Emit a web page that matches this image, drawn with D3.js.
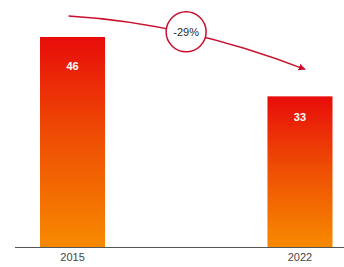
<!DOCTYPE html>
<html><head><meta charset="utf-8">
<script src="https://cdn.jsdelivr.net/npm/d3@7"></script>
<style>html,body{margin:0;padding:0;background:#fff;}svg{display:block;font-family:"Liberation Sans",Arial,sans-serif;}</style>
</head><body>
<svg id="c" width="344" height="267"></svg>
<script>
const categories = ["2015", "2022"];
const values = [46, 33];
const changeLabel = "-29%";

const svg = d3.select("#c");
const W = 344, H = 267;
const baseY = 247;

const x = d3.scaleBand().domain(categories).range([40, 332.5]).paddingInner(0.714).paddingOuter(0);
const y = d3.scaleLinear().domain([0, 46]).range([baseY, 37]);

const defs = svg.append("defs");
const g = defs.append("linearGradient").attr("id", "grad").attr("x1", 0).attr("y1", 0).attr("x2", 0).attr("y2", 1);
g.append("stop").attr("offset", "0%").attr("stop-color", "#e80c0a");
g.append("stop").attr("offset", "45%").attr("stop-color", "#ee4a04");
g.append("stop").attr("offset", "100%").attr("stop-color", "#f78a00");

const mk = defs.append("marker").attr("id", "arr").attr("viewBox", "0 0 10 10").attr("refX", 9).attr("refY", 5)
  .attr("markerWidth", 7).attr("markerHeight", 7).attr("orient", "auto").attr("markerUnits", "userSpaceOnUse");
mk.append("path").attr("d", "M0,0 L10,5 L0,10 Z").attr("fill", "#c8102e");

svg.selectAll("rect.bar").data(values).join("rect").attr("class", "bar")
  .attr("x", (d, i) => x(categories[i])).attr("width", x.bandwidth())
  .attr("y", d => y(d)).attr("height", d => baseY - y(d)).attr("fill", "url(#grad)");

svg.selectAll("text.val").data(values).join("text").attr("class", "val")
  .attr("x", (d, i) => x(categories[i]) + x.bandwidth() / 2)
  .attr("y", d => y(d) + 0.14 * (baseY - y(d)) + 4).attr("text-anchor", "middle")
  .attr("fill", "#fff").attr("font-size", 11).attr("font-weight", "bold").text(d => d);

svg.append("line").attr("x1", 15).attr("x2", W).attr("y1", baseY + 0.5).attr("y2", baseY + 0.5)
  .attr("stroke", "#555").attr("stroke-width", 1);

const axis = d3.axisBottom(x).tickSize(0).tickPadding(6);
const ax = svg.append("g").attr("transform", `translate(0,${baseY})`).call(axis);
ax.select(".domain").remove();
ax.selectAll("text").attr("font-size", 11).attr("fill", "#444").attr("font-family", "Liberation Sans, Arial, sans-serif");

// arrow
const cx1 = x(categories[0]) + x.bandwidth() / 2 - 4, cy1 = y(values[0]) - 21;
const cx2 = x(categories[1]) + x.bandwidth() / 2 + 5, cy2 = y(values[1]) - 27;
const ctrl = [185.5, 23];
const p = d3.path();
p.moveTo(cx1, cy1);
p.quadraticCurveTo(ctrl[0], ctrl[1], cx2, cy2);
svg.append("path").attr("d", p.toString()).attr("fill", "none").attr("stroke", "#c8102e")
  .attr("stroke-width", 1.5).attr("marker-end", "url(#arr)");

const t = 0.5;
const mx = (1 - t) * (1 - t) * cx1 + 2 * (1 - t) * t * ctrl[0] + t * t * cx2;
const my = (1 - t) * (1 - t) * cy1 + 2 * (1 - t) * t * ctrl[1] + t * t * cy2 - 1;
svg.append("circle").attr("cx", mx).attr("cy", my).attr("r", 20).attr("fill", "#fff")
  .attr("stroke", "#c8102e").attr("stroke-width", 1.5);
svg.append("text").attr("x", mx).attr("y", my + 4).attr("text-anchor", "middle")
  .attr("font-size", 11).attr("fill", "#2a2a2a").text(changeLabel);
</script>
</body></html>
